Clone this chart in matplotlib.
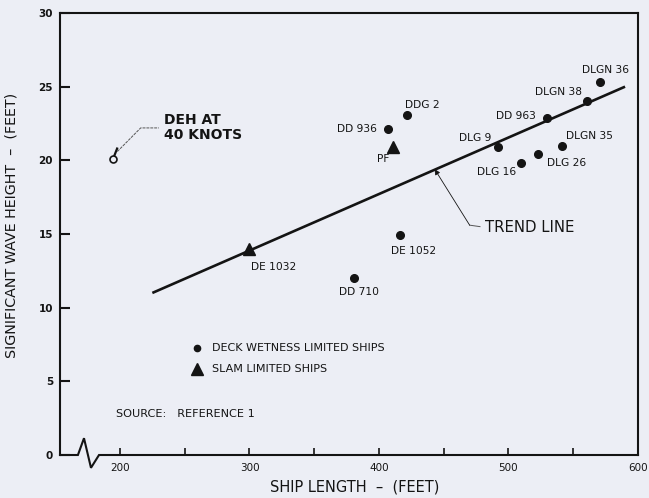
import matplotlib
matplotlib.use("Agg")
import matplotlib.pyplot as plt

# Deck-wetness limited ships: length (ft), significant wave height (ft)
deck_names = ["DD 936", "DDG 2", "DLG 9", "DD 963", "DLGN 38", "DLGN 36",
              "DLGN 35", "DLG 26", "DLG 16", "DE 1052", "DD 710"]
deck_length = [407, 422, 492, 530, 561, 571, 541, 523, 510, 416, 381]
deck_height = [22.1, 23.1, 20.9, 22.9, 24.0, 25.3, 21.0, 20.4, 19.8, 14.9, 12.0]

# Slam limited ships
slam_names = ["PF", "DE 1032"]
slam_length = [411, 300]
slam_height = [20.9, 14.0]

# DEH at 40 knots
deh_length = [195]
deh_height = [20.1]

# Trend line end points
trend_length = [225, 590]
trend_height = [11.0, 25.0]

x_ticks = [200, 250, 300, 350, 400, 450, 500, 550, 600]
x_ticklabels = ["200", "", "300", "", "400", "", "500", "", "600"]
y_ticks = [0, 5, 10, 15, 20, 25, 30]

# label placement: (dx, dy) in points, horizontal alignment
deck_offsets = {
    "DD 936": (-8, 0, "right"),
    "DDG 2": (-2, 7, "left"),
    "DLG 9": (-5, 6.5, "right"),
    "DD 963": (-8, 1.5, "right"),
    "DLGN 38": (-4, 7, "right"),
    "DLGN 36": (4, 8.5, "center"),
    "DLGN 35": (3, 7, "left"),
    "DLG 26": (6, -6, "left"),
    "DLG 16": (-4, -6, "right"),
    "DE 1052": (-6, -11.5, "left"),
    "DD 710": (3, -10, "center"),
}
slam_offsets = {
    "PF": (-7, -8.5, "center"),
    "DE 1032": (1, -13, "left"),
}

ink = "#141414"
paper = "#eceef5"
plt.rcParams["font.family"] = ["DejaVu Sans"]

fig = plt.figure(figsize=(6.49, 4.98), dpi=100, facecolor=paper)
ax = fig.add_axes([60 / 649, 43 / 498, 578 / 649, 442 / 498])
ax.set_facecolor(paper)
ax.set_xlim(153.7, 600)
ax.set_ylim(0, 30)

for side in ["top", "right", "left"]:
    ax.spines[side].set_linewidth(1.5)
    ax.spines[side].set_color(ink)
ax.spines["bottom"].set_visible(False)

# bottom axis with a break symbol near the origin
bx = [0, 0.031, 0.0415, 0.0536, 0.0675, 1.0]
by = [0, 0, 0.038, -0.029, 0, 0]
ax.plot(bx, by, transform=ax.transAxes, color=ink, lw=1.5, clip_on=False,
        solid_joinstyle="miter")

ax.set_xticks(x_ticks)
ax.set_xticklabels(x_ticklabels)
ax.set_yticks(y_ticks)
ax.tick_params(axis="x", direction="in", length=5, width=1.2, color=ink,
               labelsize=7.5, labelcolor=ink, pad=6)
ax.tick_params(axis="y", direction="in", length=7, width=1.5, color=ink,
               labelsize=7.5, labelcolor=ink, pad=5)
for t in ax.get_yticklabels():
    t.set_fontweight("bold")

# trend line
ax.plot(trend_length, trend_height, color=ink, lw=1.9, solid_capstyle="butt")

# ships
ax.plot(deck_length, deck_height, "o", color=ink, ms=5.5, ls="none")
ax.plot(slam_length, slam_height, "^", color=ink, ms=8.5, ls="none")
ax.plot(deh_length, deh_height, "o", mfc=paper, mec=ink, mew=1.2, ms=5, ls="none")

lab_kw = dict(fontsize=7.7, color=ink, va="center", textcoords="offset points")
for n, x, y in zip(deck_names, deck_length, deck_height):
    dx, dy, ha = deck_offsets[n]
    ax.annotate(n, (x, y), xytext=(dx, dy), ha=ha, **lab_kw)
for n, x, y in zip(slam_names, slam_length, slam_height):
    dx, dy, ha = slam_offsets[n]
    ax.annotate(n, (x, y), xytext=(dx, dy), ha=ha, **lab_kw)

# DEH callout
ax.plot([198, 216, 230], [20.6, 22.2, 22.2], color="#555555", lw=0.7,
        ls=(0, (3, 1)))
ax.plot([195.8, 197.8], [20.35, 20.8], color=ink, lw=1.6)
ax.text(234, 22.2, "DEH AT\n40 KNOTS", fontsize=10, fontweight="semibold",
        color=ink, va="center", ha="left", linespacing=1.1)

# trend line callout
ax.annotate("", xy=(443, 19.4), xytext=(470, 15.6),
            arrowprops=dict(arrowstyle="-|>", color=ink, lw=0.6,
                            mutation_scale=8, shrinkA=0, shrinkB=0))
ax.plot([470, 478], [15.6, 15.5], color="#555555", lw=0.7)
ax.text(482, 15.45, "TREND LINE", fontsize=10.7, color=ink, va="center", ha="left")

# legend
ax.plot([259.5], [7.26], "o", color=ink, ms=4.5)
ax.text(271, 7.26, "DECK WETNESS LIMITED SHIPS", fontsize=8, color=ink,
        va="center", ha="left")
ax.plot([259.5], [5.84], "^", color=ink, ms=8)
ax.text(271, 5.84, "SLAM LIMITED SHIPS", fontsize=8, color=ink,
        va="center", ha="left")

ax.text(197, 2.8, "SOURCE:   REFERENCE 1", fontsize=8.1, color=ink,
        va="center", ha="left")

ax.set_xlabel("SHIP LENGTH  \u2013  (FEET)", fontsize=10.5, color=ink)
ax.xaxis.set_label_coords(0.51, -0.056)
ax.set_ylabel("SIGNIFICANT WAVE HEIGHT  \u2013  (FEET)", fontsize=10.3, color=ink)
ax.yaxis.set_label_coords(-0.072, 0.52)

fig.savefig("out.png", dpi=100, facecolor=paper)
